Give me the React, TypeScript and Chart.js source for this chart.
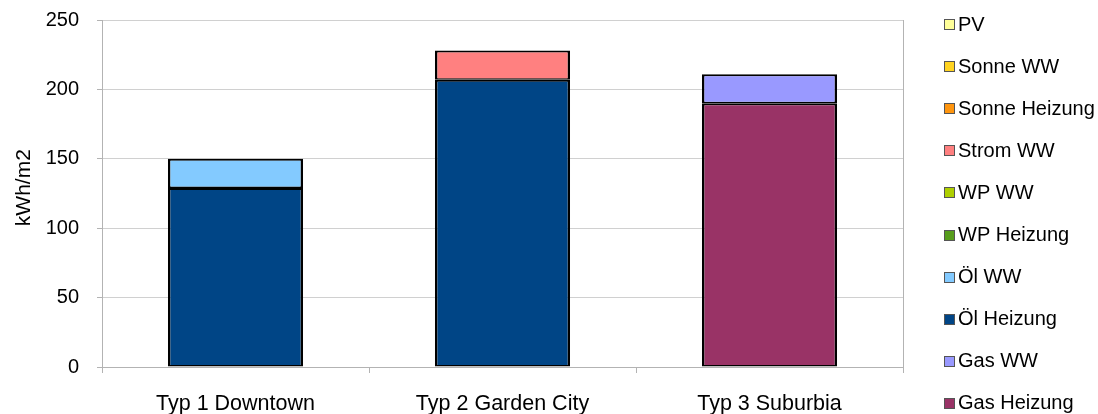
import React, { useEffect, useRef } from 'react';
import { Chart, registerables } from 'chart.js';

Chart.register(...registerables);

const categories = ['Typ 1 Downtown', 'Typ 2 Garden City', 'Typ 3 Suburbia'];

// Series in stacking order (bottom to top)
const seriesNames = [
  'Gas Heizung',
  'Gas WW',
  'Öl Heizung',
  'Öl WW',
  'WP Heizung',
  'WP WW',
  'Strom WW',
  'Sonne Heizung',
  'Sonne WW',
  'PV',
];
const seriesColors = [
  '#993366',
  '#9999ff',
  '#004586',
  '#83caff',
  '#579d1c',
  '#aecf00',
  '#ff8080',
  '#ff950e',
  '#ffd320',
  '#ffff99',
];

const gasHeizung = [null, null, 190];
const gasWW = [null, null, 21];
const oelHeizung = [129, 207, null];
const oelWW = [21, null, null];
const wpHeizung = [null, null, null];
const wpWW = [null, null, null];
const stromWW = [null, 21, null];
const sonneHeizung = [null, null, null];
const sonneWW = [null, null, null];
const pv = [null, null, null];

const seriesValues = [gasHeizung, gasWW, oelHeizung, oelWW, wpHeizung, wpWW, stromWW, sonneHeizung, sonneWW, pv];

const yTicks = [0, 50, 100, 150, 200, 250];
const yTitle = '  kWh/m2';

const FONT = '"Liberation Sans", Arial, sans-serif';
const FONT_SIZE = 20;

const legendPlugin = {
  id: 'customLegend',
  afterDraw(chart: any) {
    const ctx = chart.ctx;
    const ds = chart.data.datasets;
    ctx.save();
    ctx.font = `${FONT_SIZE}px ${FONT}`;
    ctx.textBaseline = 'middle';
    ctx.textAlign = 'left';
    const n = ds.length;
    for (let k = 0; k < n; k++) {
      const d = ds[n - 1 - k];
      const y = 24 + k * 42.1;
      ctx.fillStyle = d.backgroundColor;
      ctx.fillRect(944.5, Math.round(y) - 4.5, 10, 10);
      ctx.strokeStyle = '#555555';
      ctx.lineWidth = 1;
      ctx.strokeRect(944.5, Math.round(y) - 4.5, 10, 10);
      ctx.fillStyle = '#000000';
      ctx.fillText(d.label, 958, y + 1);
    }
    ctx.restore();
  },
};

export default function App() {
  const canvasRef = useRef<HTMLCanvasElement | null>(null);

  useEffect(() => {
    const canvas = canvasRef.current;
    if (!canvas) return;
    const datasets = seriesNames.map((name, i) => ({
      label: name,
      data: seriesValues[i],
      backgroundColor: seriesColors[i],
      borderColor: '#000000',
      borderWidth: { top: 2, bottom: 1.5, left: 2.5, right: 2.5 },
      borderSkipped: false as const,
      inflateAmount: 0,
      categoryPercentage: 1,
      barPercentage: 0.506,
    }));

    const chart = new Chart(canvas, {
      type: 'bar',
      data: { labels: categories, datasets },
      plugins: [legendPlugin],
      options: {
        responsive: false,
        animation: false,
        devicePixelRatio: 1,
        layout: { padding: { top: 20, right: 195, bottom: 0, left: 0 } },
        plugins: {
          legend: { display: false },
          tooltip: { enabled: false },
        },
        scales: {
          x: {
            stacked: true,
            afterFit: (scale: any) => {
              scale.height = 47;
            },
            grid: {
              offset: true,
              color: (c: any) => (c.type === 'scale' ? '#b3b3b3' : 'rgba(0,0,0,0)'),
              tickColor: '#b3b3b3',
              tickLength: 6,
            },
            border: { display: true, color: '#b3b3b3', width: 1 },
            ticks: {
              color: '#000000',
              padding: 18,
              font: { family: FONT, size: 21.5 },
              maxRotation: 0,
            },
          },
          y: {
            stacked: true,
            min: 0,
            max: 250,
            afterBuildTicks: (scale: any) => {
              scale.ticks = yTicks.map((v) => ({ value: v }));
            },
            afterFit: (scale: any) => {
              scale.width = 102;
              scale.paddingTop = 0;
              scale.paddingBottom = 0;
            },
            grid: {
              color: '#d0d0d0',
              tickColor: '#b3b3b3',
              tickLength: 5,
            },
            border: { display: true, color: '#b3b3b3', width: 1 },
            ticks: {
              color: '#000000',
              padding: 18,
              font: { family: FONT, size: FONT_SIZE },
            },
            title: {
              display: true,
              text: yTitle,
              color: '#000000',
              font: { family: FONT, size: 21 },
              padding: { top: 12, bottom: 4 },
            },
          },
        },
      },
    });
    return () => chart.destroy();
  }, []);

  return (
    <div style={{ position: 'absolute', left: 0, top: 0, width: 1098, height: 414, background: '#ffffff' }}>
      <canvas ref={canvasRef} width={1098} height={414} style={{ width: 1098, height: 414, display: 'block' }} />
    </div>
  );
}
